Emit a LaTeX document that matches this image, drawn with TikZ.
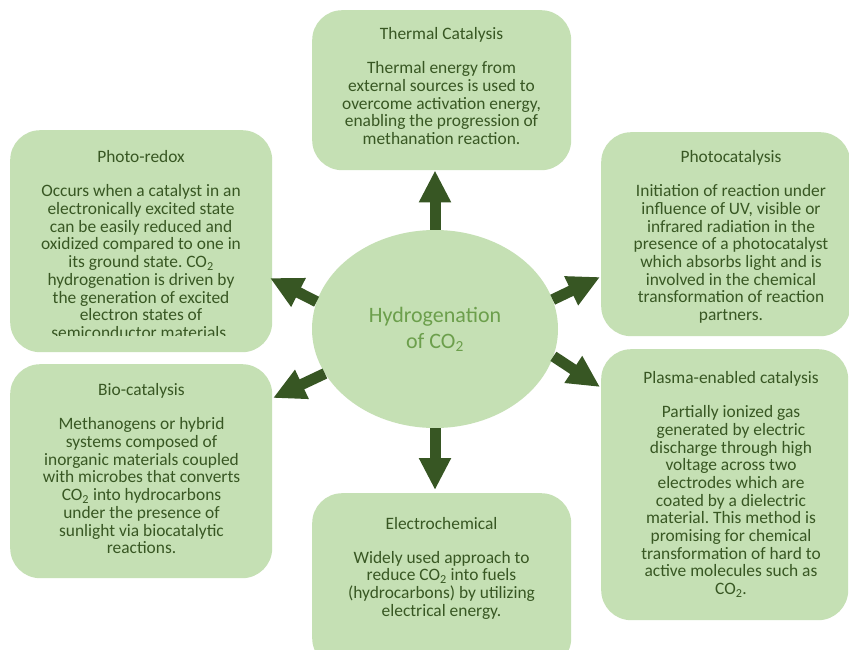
\documentclass[tikz,border=0pt]{standalone}
\usepackage{fontspec}
\setmainfont{Carlito}
\usetikzlibrary{arrows.meta,shapes.geometric}
\definecolor{boxg}{HTML}{C5E0B4}
\definecolor{txtg}{HTML}{385723}
\definecolor{hubg}{HTML}{6C9F4C}
\definecolor{arrg}{HTML}{375623}
\newcommand\COtwo{CO\textsubscript{2}}
\newcommand\bodyfont{\fontsize{17.4}{17.7}\selectfont}
\frenchspacing
\lineskiplimit=-20pt
\begin{document}
\begin{tikzpicture}[x=1pt,y=-1pt,
  box/.style={draw=none, fill=boxg, rounded corners=30pt, inner sep=0pt, anchor=north west},
  txt/.style={text=txtg, align=center, inner sep=0pt, anchor=north, font=\bodyfont},
  arr/.style={draw=arrg, line width=11pt, -{Triangle[width=30pt,length=32pt]}}
]
\clip (0,0) rectangle (849,649);
\fill[white] (0,0) rectangle (849,649);

% boxes
\node[box, minimum width=259pt, minimum height=160pt] (thermal) at (312,10) {};
\node[box, minimum width=262pt, minimum height=222pt] (photoredox) at (10,130) {};
\node[box, minimum width=249pt, minimum height=204pt] (photocat) at (601,132) {};
\node[box, minimum width=262pt, minimum height=214pt] (bio) at (10,364) {};
\node[box, minimum width=259pt, minimum height=175pt] (electro) at (312,493) {};
\node[box, minimum width=247pt, minimum height=271pt] (plasma) at (601,349) {};

% hub
\node[ellipse, fill=boxg, minimum width=246pt, minimum height=198pt, inner sep=0pt,
      text=hubg, align=center, font=\fontsize{22}{26}\selectfont] (hub) at (435,329)
      {Hydrogenation\\of \COtwo};

% texts
\node[txt] (thermalT) at (441.5,27.6) {Thermal Catalysis\\[16.3pt]
Thermal energy from\\external sources is used to\\overcome activation energy,\\enabling the progression of\\methanation reaction.};

\begin{scope}
\clip (10,130) rectangle (272,335.5);
\node[txt] (photoredoxT) at (141,150.6) {Photo-redox\\[16.3pt]
Occurs when a catalyst in an\\electronically excited state\\can be easily reduced and\\oxidized compared to one in\\its ground state. \COtwo\\hydrogenation is driven by\\the generation of excited\\electron states of\\semiconductor materials.};
\end{scope}

\node[txt] (photocatT) at (731,150.4) {Photocatalysis\\[16.3pt]
Initiation of reaction under\\influence of UV, visible or\\infrared radiation in the\\presence of a photocatalyst\\which absorbs light and is\\involved in the chemical\\transformation of reaction\\partners.};

\node[txt] (bioT) at (141.5,383.6) {Bio-catalysis\\[16.3pt]
Methanogens or hybrid\\systems composed of\\inorganic materials coupled\\with microbes that converts\\\COtwo{} into hydrocarbons\\under the presence of\\sunlight via biocatalytic\\reactions.};

\node[txt] (electroT) at (441.5,517) {Electrochemical\\[16.3pt]
Widely used approach to\\reduce \COtwo{} into fuels\\(hydrocarbons) by utilizing\\electrical energy.};

\node[txt] (plasmaT) at (731,371.4) {Plasma-enabled catalysis\\[16.3pt]
Partially ionized gas\\generated by electric\\discharge through high\\voltage across two\\electrodes which are\\coated by a dielectric\\material. This method is\\promising for chemical\\transformation of hard to\\active molecules such as\\\COtwo.};

% arrow tips
\coordinate (tUL) at (270,278);
\coordinate (tUR) at (600,277);
\coordinate (tLL) at (273,398);
\coordinate (tLR) at (600,387);

% arrows
\draw[arr] (hub.north) -- (hub.north |- thermal.south);
\draw[arr] (hub.south) -- ([yshift=3pt]hub.south |- electro.north);
\draw[arr] (hub.167) -- (tUL);
\draw[arr] (hub.14) -- (tUR);
\draw[arr] (hub.202) -- (tLL);
\draw[arr] (hub.-13) -- (tLR);
\end{tikzpicture}
\end{document}
